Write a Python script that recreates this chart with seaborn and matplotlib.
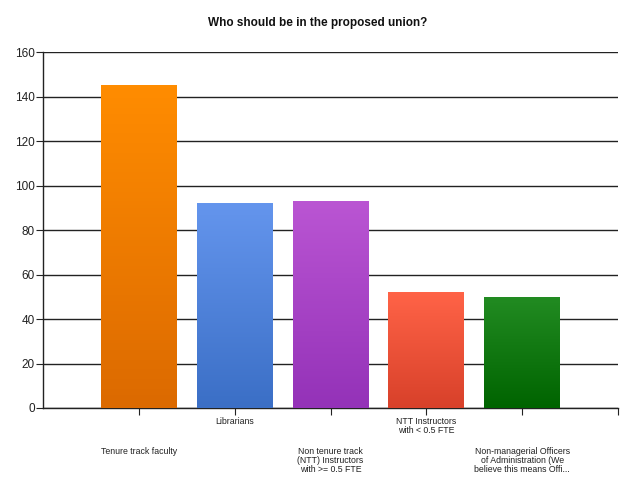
import numpy as np
import pandas as pd
import seaborn as sns
import matplotlib.pyplot as plt
import matplotlib.transforms as mtransforms
from matplotlib.colors import LinearSegmentedColormap

# data
categories = [
    "Tenure track faculty",
    "Librarians",
    "Non tenure track\n(NTT) Instructors\nwith >= 0.5 FTE",
    "NTT Instructors\nwith < 0.5 FTE",
    "Non-managerial Officers\nof Administration (We\nbelieve this means Offi...",
]
counts = [145, 92, 93, 52, 50]
top_colors = ["#FF8C00", "#6495ED", "#BA55D3", "#FF6347", "#228B22"]
bottom_colors = ["#DC6A00", "#3B6FC6", "#9432B8", "#D8412A", "#006400"]

sns.set_style("white")
plt.rcParams['font.family'] = ['Liberation Sans', 'DejaVu Sans']

df = pd.DataFrame({"category": categories, "count": counts})

fig = plt.figure(figsize=(6.4, 4.86), dpi=100)
ax = fig.add_axes([43 / 640, 1 - 408 / 486, 575 / 640, 356 / 486])

sns.barplot(data=df, x="category", y="count", hue="category",
            palette=top_colors, width=0.79, legend=False, ax=ax,
            saturation=1, edgecolor="none", zorder=3)

# vertical gradient inside each bar
for patch, c_top, c_bot in zip(ax.patches, top_colors, bottom_colors):
    cmap = LinearSegmentedColormap.from_list("g", [c_bot, c_top])
    x0, w, h = patch.get_x(), patch.get_width(), patch.get_height()
    grad = np.linspace(1, 0, 100).reshape(-1, 1)
    im = ax.imshow(grad, cmap=cmap, aspect="auto", extent=[x0, x0 + w, 0, h],
                   zorder=3.5, vmin=0, vmax=1)
    im.set_clip_path(patch)

ax.set_xlim(-1, 5)
ax.set_ylim(0, 160)
ax.set_yticks(range(0, 161, 20))
ax.yaxis.grid(True, color="#222222", linewidth=1)
ax.set_axisbelow(True)
ax.set_xlabel("")
ax.set_ylabel("")

for side in ["top", "right"]:
    ax.spines[side].set_visible(False)
for side in ["left", "bottom"]:
    ax.spines[side].set_color("#222222")
    ax.spines[side].set_linewidth(1)

ax.set_xticks(range(6))
ax.set_xticklabels(categories + [""], fontsize=6.3, color="#222222")
ax.tick_params(axis="x", length=5, color="#222222", pad=1.8, direction="out", bottom=True)
ax.tick_params(axis="y", length=5, color="#222222", labelsize=8.5, labelcolor="#222222",
               direction="out", left=True, pad=1)

# stagger labels: even positions go to a second row
for i, lab in enumerate(ax.get_xticklabels()):
    lab.set_verticalalignment("top")
    lab.set_linespacing(1.0)
    if i % 2 == 0:
        off = mtransforms.ScaledTranslation(0, -29.5 / 100, fig.dpi_scale_trans)
        lab.set_transform(lab.get_transform() + off)

fig.suptitle("Who should be in the proposed union?", x=0.497, y=1 - 17 / 486,
             fontsize=8.5, fontweight="bold", color="#111111")

fig.savefig("out.png", dpi=100)
